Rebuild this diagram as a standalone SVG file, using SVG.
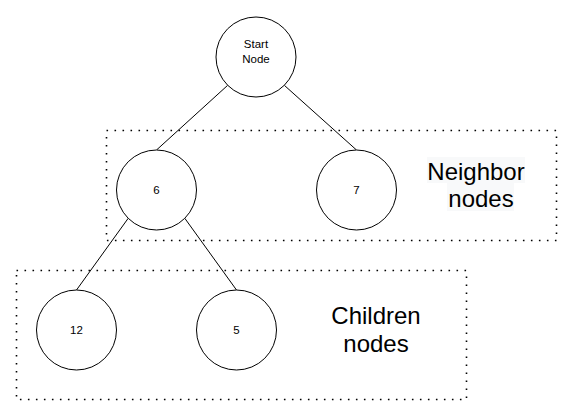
<svg xmlns="http://www.w3.org/2000/svg" width="568" height="413" viewBox="0 0 568 413">
<style>
.bg{fill:#ffffff}
.grp{fill:none;stroke:#000;stroke-width:1.6;stroke-dasharray:1.6 6.4}
.node{fill:#ffffff;stroke:#000;stroke-width:1}
.edge{fill:none;stroke:#000;stroke-width:1}
.sm{font-family:"Liberation Sans",Arial,sans-serif;font-size:11.5px;fill:#000;text-anchor:middle}
.lg{font-family:"Liberation Sans",Arial,sans-serif;font-size:24px;fill:#000;text-anchor:middle}
.lbg{fill:#f8f9fa}
</style>
<rect class="bg" x="0" y="0" width="568" height="413"/>
<g id="neighbor-group">
<rect class="grp" x="106.5" y="130.5" width="450" height="110"/>
<rect class="lbg" x="427" y="157" width="98" height="26"/>
<rect class="lbg" x="447" y="183" width="67" height="28"/>
<text class="lg" x="476" y="180">Neighbor</text>
<text class="lg" x="481" y="207">nodes</text>
</g>
<g id="children-group">
<rect class="grp" x="16.5" y="270.5" width="450" height="129"/>
<text class="lg" x="376" y="324">Children</text>
<text class="lg" x="376" y="352">nodes</text>
</g>
<g id="connectors">
<line class="edge" x1="227.7" y1="85.3" x2="156.5" y2="150"/>
<line class="edge" x1="284.3" y1="85.3" x2="356.5" y2="150"/>
<line class="edge" x1="128.2" y1="218.3" x2="76.5" y2="290"/>
<line class="edge" x1="184.8" y1="218.3" x2="236.5" y2="290"/>
</g>
<g id="start-node">
<circle class="node" cx="256" cy="57" r="40"/>
<text class="sm" x="256" y="48">Start</text>
<text class="sm" x="256" y="62.5">Node</text>
</g>
<g id="node-6">
<circle class="node" cx="156.5" cy="190" r="40"/>
<text class="sm" x="156.5" y="194">6</text>
</g>
<g id="node-7">
<circle class="node" cx="356.5" cy="190" r="40"/>
<text class="sm" x="356.5" y="194">7</text>
</g>
<g id="node-12">
<circle class="node" cx="76.5" cy="330" r="40"/>
<text class="sm" x="76.5" y="334">12</text>
</g>
<g id="node-5">
<circle class="node" cx="236.5" cy="330" r="40"/>
<text class="sm" x="236.5" y="334">5</text>
</g>
</svg>
